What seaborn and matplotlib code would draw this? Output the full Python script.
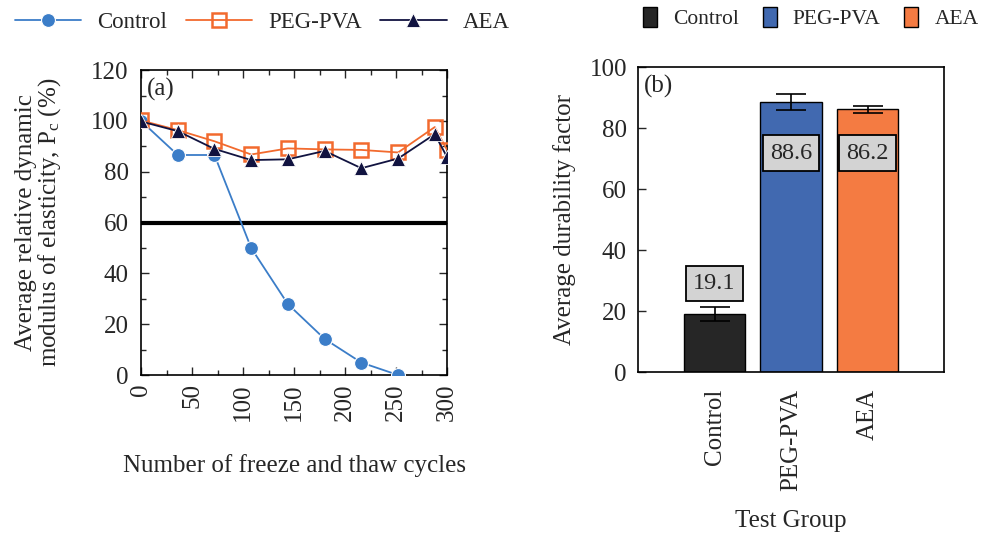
import pandas as pd
import matplotlib
matplotlib.use('Agg')
import matplotlib.pyplot as plt
import seaborn as sns
from matplotlib.ticker import MultipleLocator
from matplotlib.patches import Patch

sns.set_theme(style='ticks')
plt.rcParams['font.family'] = ['Liberation Serif', 'DejaVu Serif']
plt.rcParams['mathtext.fontset'] = 'custom'
plt.rcParams['mathtext.rm'] = 'Liberation Serif'
plt.rcParams['mathtext.it'] = 'Liberation Serif'

# (a) freeze-thaw data
cycles_control = [0, 36, 72, 108, 144, 180, 216, 252]
control = [100, 86.6, 86.6, 50.0, 27.9, 14.2, 4.9, 0.0]
cycles = [0, 36, 72, 108, 144, 180, 216, 252, 288, 300]
peg_pva = [100.2, 96.4, 92.0, 86.8, 89.2, 88.8, 88.6, 87.6, 97.6, 88.6]
aea = [99.8, 96.0, 89.0, 84.6, 84.9, 88.2, 81.4, 85.2, 94.8, 85.8]

# (b) durability factor
groups = ['Control', 'PEG-PVA', 'AEA']
durability = [19.1, 88.6, 86.2]
dur_err = [2.2, 2.5, 1.2]
label_y = [29.0, 71.8, 71.8]

c_control = '#3b7dc8'
c_peg = '#f26a2e'
c_aea = '#111340'
bar_colors = ['#262626', '#4169b0', '#f47b42']

FS = 18

fig = plt.figure(figsize=(9.84, 5.33), dpi=100)
ax1 = fig.add_axes([0.1433, 0.2964, 0.311, 0.572])
ax2 = fig.add_axes([0.6484, 0.302, 0.311, 0.572])

df_c = pd.DataFrame({'cycles': cycles_control, 'val': control})
df_p = pd.DataFrame({'cycles': cycles, 'val': peg_pva})
df_a = pd.DataFrame({'cycles': cycles, 'val': aea})

ax1.axhline(60, color='black', lw=3, zorder=1)
sns.lineplot(data=df_c, x='cycles', y='val', ax=ax1, color=c_control, lw=1.3,
             marker='o', markersize=10, markeredgecolor='white', markeredgewidth=0.8,
             label='Control', zorder=3)
sns.lineplot(data=df_p, x='cycles', y='val', ax=ax1, color=c_peg, lw=1.3,
             marker='s', markersize=10, markerfacecolor='none', markeredgecolor=c_peg,
             markeredgewidth=1.8, label='PEG-PVA', zorder=4)
sns.lineplot(data=df_a, x='cycles', y='val', ax=ax1, color=c_aea, lw=1.3,
             marker='^', markersize=10, markeredgecolor='white', markeredgewidth=0.6,
             label='AEA', zorder=5)

ax1.set_xlim(0, 300)
ax1.set_ylim(0, 120)
ax1.xaxis.set_major_locator(MultipleLocator(50))
ax1.xaxis.set_minor_locator(MultipleLocator(25))
ax1.yaxis.set_major_locator(MultipleLocator(20))
ax1.yaxis.set_minor_locator(MultipleLocator(10))
ax1.set_xlabel('Number of freeze and thaw cycles', fontsize=FS, labelpad=24)
ax1.set_ylabel('Average relative dynamic\nmodulus of elasticity, $\\mathregular{P_c}$ (%)',
               fontsize=FS, labelpad=20, linespacing=0.95)
ax1.text(0.02, 0.975, '(a)', transform=ax1.transAxes, fontsize=FS, va='top', ha='left')
for lab in ax1.get_xticklabels():
    lab.set_rotation(90)
h, l = ax1.get_legend_handles_labels()
ax1.get_legend().remove()
fig.legend(h, l, loc='center left', bbox_to_anchor=(15 / 984, 0.958), ncol=3, frameon=False,
           fontsize=16.5, handlelength=2.9, columnspacing=0.8, handletextpad=0.7,
           borderpad=0, borderaxespad=0)

# bars
df_b = pd.DataFrame({'group': groups, 'val': durability})
sns.barplot(data=df_b, x='group', y='val', ax=ax2, order=groups, hue='group',
            palette=bar_colors, width=0.8, edgecolor='black', linewidth=1.0,
            saturation=1, legend=False, zorder=2)
ax2.errorbar(range(len(groups)), durability, yerr=dur_err, fmt='none', ecolor='black',
             elinewidth=1.2, capsize=11, capthick=1.2, zorder=3)
for i, (v, y) in enumerate(zip(durability, label_y)):
    ax2.text(i, y, f'{v}', ha='center', va='center', fontsize=17.5, zorder=4,
             bbox=dict(boxstyle='square,pad=0.3', facecolor='#d3d3d3', edgecolor='black', lw=1.3))
ax2.set_xlim(-1.0, 3.0)
ax2.set_ylim(0, 100)
ax2.yaxis.set_major_locator(MultipleLocator(20))
ax2.set_xlabel('Test Group', fontsize=FS, labelpad=14)
ax2.set_ylabel('Average durability factor', fontsize=FS, labelpad=10)
ax2.text(0.02, 0.975, '(b)', transform=ax2.transAxes, fontsize=FS, va='top', ha='left')
for lab in ax2.get_xticklabels():
    lab.set_rotation(90)
patches = [Patch(facecolor=c, edgecolor='black', label=g) for g, c in zip(groups, bar_colors)]
fig.legend(handles=patches, loc='center left', bbox_to_anchor=(643 / 984, 0.966), ncol=3,
           frameon=False, fontsize=15.5, handlelength=0.65, handleheight=1.1,
           columnspacing=1.1, handletextpad=0.75, borderpad=0, borderaxespad=0)

ax1.tick_params(which='both', direction='in', top=True, right=True, labelsize=FS)
ax1.tick_params(which='major', length=6, width=1)
ax1.tick_params(which='minor', length=3.5, width=1)
ax1.tick_params(axis='y', pad=9)
ax1.tick_params(axis='x', pad=6)
ax2.tick_params(axis='y', direction='in', length=6, width=1, labelsize=FS, pad=8)
ax2.tick_params(axis='x', length=0, labelsize=FS, pad=12)
for ax in (ax1, ax2):
    for s in ax.spines.values():
        s.set_linewidth(1.2)
        s.set_color('black')

fig.savefig('out.png', dpi=100)
